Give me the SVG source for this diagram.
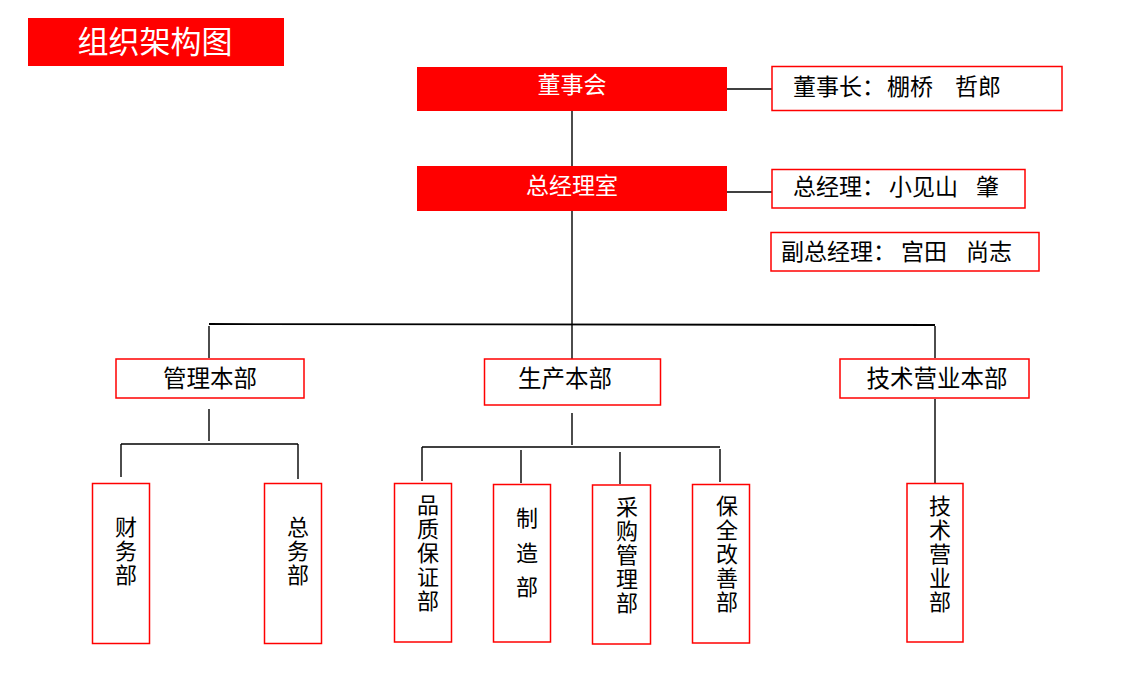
<svg xmlns="http://www.w3.org/2000/svg" width="1139" height="680" viewBox="0 0 1139 680">
<style>
.solid{fill:#ff0000;stroke:none}
.box{fill:#ffffff;stroke:#ff0000;stroke-width:1.5}
.wt{fill:#ffffff;font-family:"Noto Sans CJK SC","Noto Sans CJK JP",sans-serif;font-size:23px;text-anchor:middle}
.bt{fill:#000000;font-family:"Noto Sans CJK SC","Noto Sans CJK JP",sans-serif;font-size:23px}
.ht{fill:#000000;font-family:"Noto Sans CJK SC","Noto Sans CJK JP",sans-serif;font-size:23.5px;text-anchor:middle}
.vt{fill:#000000;font-family:"Noto Sans CJK SC","Noto Sans CJK JP",sans-serif;font-size:22px;writing-mode:vertical-rl;text-orientation:upright;letter-spacing:1.8px}
.ln{stroke:#000000;stroke-width:1.4;fill:none}
</style>
<rect width="1139" height="680" fill="#ffffff"/>
<g id="title">
<rect class="solid" x="28" y="18" width="256" height="48"/>
<text class="wt" x="155" y="53" style="font-size:31px">组织架构图</text>
</g>
<g id="connectors">
<line class="ln" x1="572" y1="111" x2="572" y2="166"/>
<line class="ln" x1="727" y1="89" x2="772" y2="89"/>
<line class="ln" x1="727" y1="192" x2="772" y2="192"/>
<line class="ln" x1="572" y1="211" x2="572" y2="359"/>
<line class="ln" x1="209" y1="324" x2="935" y2="325" style="stroke-width:1.8"/>
<line class="ln" x1="209" y1="326" x2="209" y2="358"/>
<line class="ln" x1="935" y1="326" x2="935" y2="358"/>
<line class="ln" x1="209" y1="409" x2="209" y2="441"/>
<line class="ln" x1="121" y1="444" x2="298" y2="444"/>
<line class="ln" x1="121" y1="444" x2="121" y2="477"/>
<line class="ln" x1="298" y1="444" x2="298" y2="479"/>
<line class="ln" x1="572" y1="413" x2="572" y2="445"/>
<line class="ln" x1="422" y1="447" x2="720" y2="447"/>
<line class="ln" x1="422" y1="447" x2="422" y2="481"/>
<line class="ln" x1="521" y1="450" x2="521" y2="483"/>
<line class="ln" x1="620" y1="452" x2="620" y2="484"/>
<line class="ln" x1="720" y1="449" x2="720" y2="482"/>
<line class="ln" x1="935" y1="399" x2="935" y2="483"/>
</g>
<g id="board">
<rect class="solid" x="417" y="67" width="310" height="44"/>
<text class="wt" x="572" y="93">董事会</text>
</g>
<g id="chairman">
<rect class="box" x="772" y="66.5" width="290" height="44"/>
<text class="bt" y="95"><tspan x="793">董事长：</tspan><tspan x="887">棚桥</tspan><tspan x="955">哲郎</tspan></text>
</g>
<g id="gm-office">
<rect class="solid" x="417" y="166" width="310" height="45"/>
<text class="wt" x="572" y="194">总经理室</text>
</g>
<g id="gm">
<rect class="box" x="772" y="169.5" width="253" height="38.5"/>
<text class="bt" y="195"><tspan x="793">总经理：</tspan><tspan x="889">小见山</tspan><tspan x="976">肇</tspan></text>
</g>
<g id="deputy-gm">
<rect class="box" x="771" y="232.5" width="268" height="38.5"/>
<text class="bt" y="260"><tspan x="781">副总经理：</tspan><tspan x="901">宫田</tspan><tspan x="966">尚志</tspan></text>
</g>
<g id="admin-hq">
<rect class="box" x="116" y="359" width="188" height="39"/>
<text class="ht" x="210" y="387">管理本部</text>
</g>
<g id="production-hq">
<rect class="box" x="484.5" y="359" width="176" height="46"/>
<text class="ht" x="565" y="387">生产本部</text>
</g>
<g id="tech-sales-hq">
<rect class="box" x="840" y="359" width="189" height="39"/>
<text class="ht" x="937" y="387">技术营业本部</text>
</g>
<g id="finance">
<rect class="box" x="92.5" y="483.5" width="57" height="160"/>
<text class="vt" x="126" y="516" style="letter-spacing:2px">财务部</text>
</g>
<g id="general-affairs">
<rect class="box" x="264.5" y="483.5" width="57" height="160"/>
<text class="vt" x="298" y="516" style="letter-spacing:2px">总务部</text>
</g>
<g id="quality">
<rect class="box" x="394.5" y="483.5" width="57" height="158.5"/>
<text class="vt" x="428" y="494">品质保证部</text>
</g>
<g id="manufacturing">
<rect class="box" x="493.5" y="484.5" width="57" height="157.5"/>
<text class="vt" x="527" y="507" style="letter-spacing:12.5px">制造部</text>
</g>
<g id="purchasing">
<rect class="box" x="592.5" y="485" width="58" height="159"/>
<text class="vt" x="627" y="496">采购管理部</text>
</g>
<g id="maintenance">
<rect class="box" x="692.5" y="484.5" width="57" height="158.5"/>
<text class="vt" x="727" y="495">保全改善部</text>
</g>
<g id="tech-sales">
<rect class="box" x="907" y="483.5" width="56" height="158.5"/>
<text class="vt" x="940" y="495">技术营业部</text>
</g>
</svg>
